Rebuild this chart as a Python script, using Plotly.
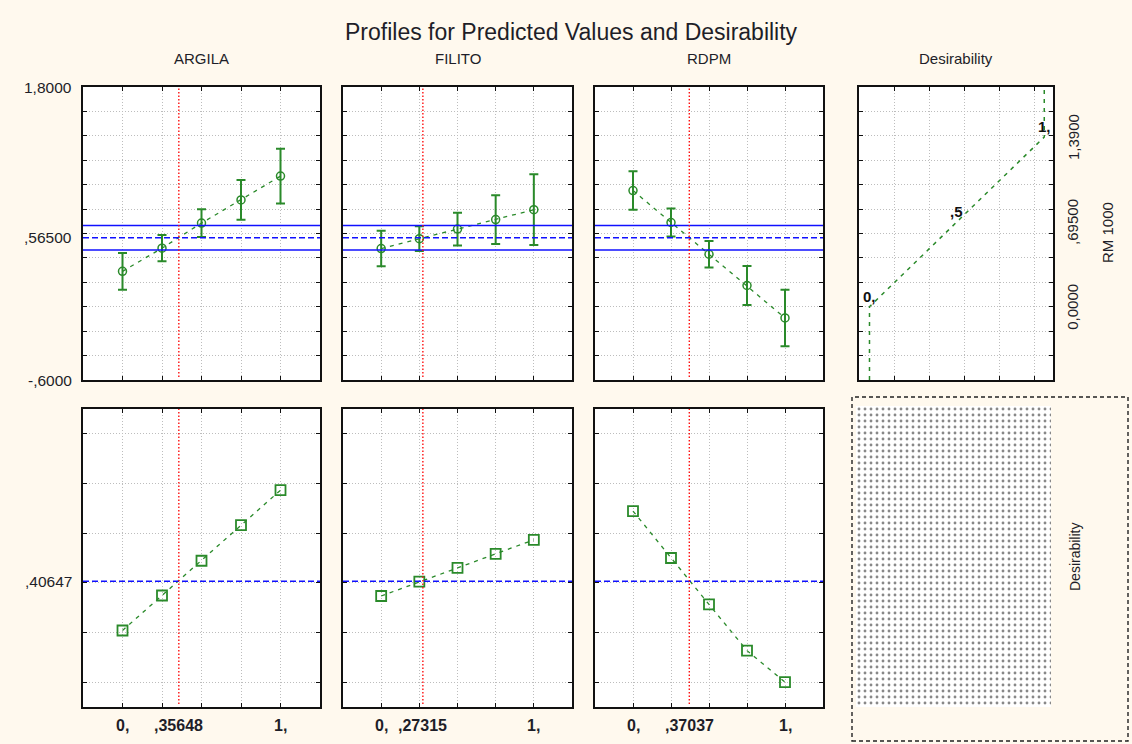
import plotly.graph_objects as go

# ---- data -------------------------------------------------------------
factors = ["ARGILA", "FILITO", "RDPM"]
levels = [0.0, 0.25, 0.5, 0.75, 1.0]

argila_pred = [0.29, 0.48, 0.685, 0.875, 1.07]
argila_ci = [0.15, 0.108, 0.113, 0.163, 0.224]
filito_pred = [0.477, 0.558, 0.636, 0.714, 0.795]
filito_ci = [0.145, 0.101, 0.134, 0.20, 0.29]
rdpm_pred = [0.952, 0.69, 0.43, 0.174, -0.092]
rdpm_ci = [0.157, 0.115, 0.108, 0.159, 0.231]

argila_des = [0.208, 0.349, 0.489, 0.632, 0.773]
filito_des = [0.347, 0.405, 0.460, 0.517, 0.573]
rdpm_des = [0.689, 0.500, 0.313, 0.127, 0.0]

current_levels = [0.35648, 0.27315, 0.37037]
current_labels = [",35648", ",27315", ",37037"]
pred_current = 0.565
pred_band = [0.465, 0.665]
des_current = 0.40647

# desirability function for RM 1000
des_rm = [-0.6, 0.0, 0.695, 1.39, 1.8]
des_val = [0.0, 0.0, 0.5, 1.0, 1.0]
des_point_labels = ["0,", ",5", "1,"]
rm_tick_labels = ["1,3900", ",69500", "0,0000"]
rm_tick_vals = [1.39, 0.695, 0.0]

pred_series = [argila_pred, filito_pred, rdpm_pred]
ci_series = [argila_ci, filito_ci, rdpm_ci]
des_series = [argila_des, filito_des, rdpm_des]

# ---- layout geometry (pixels) ----------------------------------------
W, H = 1132, 744
col_px = [(83, 320), (343, 572), (595, 823), (859, 1053)]
top_px = (87, 380)
bot_px = (409, 707)


def px_x(a, b):
    return [a / W, b / W]


def px_y(top, bottom):
    return [(H - bottom) / H, (H - top) / H]


def sfx(n):
    return "" if n == 1 else str(n)


GREEN = "#2a8a2a"
BLUE = "#1010ff"
RED = "#ff1010"
BG = "#fff9ee"
TXT = "#1e1e28"
FONT = "Liberation Sans, Arial, sans-serif"

fig = go.Figure()
layout = {}

grid_common = dict(
    showgrid=True, gridcolor="#bdbdbd", gridwidth=1, griddash="1px,2px",
    showline=True, linecolor="#111", linewidth=1.6, mirror="ticks",
    ticks="inside", ticklen=4, tickcolor="#111", tickwidth=1,
    showticklabels=False, zeroline=False, fixedrange=True,
)

top_yticks = [round(-0.6 + 0.2 * i, 2) for i in range(13)]
bot_yticks = [0.0, 0.2, 0.4, 0.6, 0.8, 1.0]

# axis index: top row 1..4, bottom row 5..7, filler 8
for i in range(3):
    n = i + 1
    m = i + 5
    # top row: predicted values
    layout[f"xaxis{sfx(n)}"] = dict(grid_common, domain=px_x(*col_px[i]), range=[-0.25, 1.25],
                                    tickvals=levels, anchor=f"y{sfx(n)}")
    layout[f"yaxis{sfx(n)}"] = dict(grid_common, domain=px_y(*top_px), range=[-0.6, 1.8],
                                    tickvals=top_yticks, anchor=f"x{sfx(n)}")
    # bottom row: desirability
    layout[f"xaxis{m}"] = dict(grid_common, domain=px_x(*col_px[i]), range=[-0.25, 1.25],
                               tickvals=levels, anchor=f"y{m}")
    layout[f"yaxis{m}"] = dict(grid_common, domain=px_y(*bot_px), range=[-0.1, 1.1],
                               tickvals=bot_yticks, anchor=f"x{m}")

# desirability function panel
layout["xaxis4"] = dict(grid_common, domain=px_x(*col_px[3]), range=[-0.06, 1.05],
                        tickvals=[0.145, 0.345, 0.545, 0.745, 0.945], anchor="y4")
layout["yaxis4"] = dict(grid_common, domain=px_y(*top_px), range=[-0.6, 1.8],
                        tickvals=top_yticks, anchor="x4")
# dotted filler panel
layout["xaxis8"] = dict(domain=px_x(856, 1051), range=[0, 1], visible=False, fixedrange=True, anchor="y8")
layout["yaxis8"] = dict(domain=px_y(406, 707), range=[0, 1], visible=False, fixedrange=True, anchor="x8")

shapes = []
annotations = []

for i in range(3):
    xa, ya = f"x{sfx(i + 1)}", f"y{sfx(i + 1)}"
    xb, yb = f"x{i + 5}", f"y{i + 5}"

    # confidence band and current prediction
    for yv in pred_band:
        shapes.append(dict(type="line", xref=f"{xa} domain", yref=ya, x0=0, x1=1, y0=yv, y1=yv,
                           line=dict(color=BLUE, width=1.6)))
    shapes.append(dict(type="line", xref=f"{xa} domain", yref=ya, x0=0, x1=1,
                       y0=pred_current, y1=pred_current,
                       line=dict(color=BLUE, width=1.6, dash="6px,3px")))
    shapes.append(dict(type="line", xref=f"{xb} domain", yref=yb, x0=0, x1=1,
                       y0=des_current, y1=des_current,
                       line=dict(color=BLUE, width=1.4, dash="6px,3px")))
    # current factor level
    for ax, ay in ((xa, ya), (xb, yb)):
        shapes.append(dict(type="line", xref=ax, yref=f"{ay} domain",
                           x0=current_levels[i], x1=current_levels[i], y0=0.01, y1=1,
                           line=dict(color=RED, width=1.4, dash="1.5px,2px")))

    # predicted profile with confidence limits
    fig.add_trace(go.Scatter(
        x=levels, y=pred_series[i], xaxis=xa, yaxis=ya, mode="lines+markers",
        line=dict(color=GREEN, width=1.3, dash="4px,5px"),
        marker=dict(symbol="circle-open", size=8, color=GREEN, line=dict(width=1.5, color=GREEN)),
        error_y=dict(type="data", array=ci_series[i], visible=True, color=GREEN,
                     thickness=2, width=4.5),
        showlegend=False, hoverinfo="x+y",
    ))
    # desirability profile
    fig.add_trace(go.Scatter(
        x=levels, y=des_series[i], xaxis=xb, yaxis=yb, mode="lines+markers",
        line=dict(color=GREEN, width=1.3, dash="4px,5px"),
        marker=dict(symbol="square-open", size=10, color=GREEN, line=dict(width=1.8, color=GREEN)),
        showlegend=False, hoverinfo="x+y",
    ))

    # column header
    cx = (col_px[i][0] + col_px[i][1]) / 2 / W
    annotations.append(dict(text=factors[i], xref="paper", yref="paper", x=cx, y=(H - 58) / H,
                            showarrow=False, font=dict(size=15, color=TXT, family=FONT),
                            xanchor="center", yanchor="middle"))
    # bottom tick labels
    for xv, lab in ((0.0, "0,"), (current_levels[i], current_labels[i]), (1.0, "1,")):
        annotations.append(dict(text=f"<b>{lab}</b>", xref=xb, yref="paper", x=xv, y=(H - 725) / H,
                                showarrow=False, font=dict(size=16, color=TXT, family=FONT),
                                xanchor="center", yanchor="middle"))

# desirability function curve
fig.add_trace(go.Scatter(
    x=des_val, y=des_rm, xaxis="x4", yaxis="y4", mode="lines",
    line=dict(color=GREEN, width=1.5, dash="4px,5px"), showlegend=False, hoverinfo="x+y",
))
for k, lab in enumerate(des_point_labels):
    annotations.append(dict(text=f"<b>{lab}</b>", xref="x4", yref="y4",
                            x=des_val[k + 1], y=des_rm[k + 1], yshift=0,
                            showarrow=False, font=dict(size=15, color="#111", family=FONT),
                            xanchor="center", yanchor="bottom"))
for yv, lab in zip(rm_tick_vals, rm_tick_labels):
    annotations.append(dict(text=lab, xref="paper", yref="y4", x=1073 / W, y=yv, textangle=-90,
                            showarrow=False, font=dict(size=15, color=TXT, family=FONT),
                            xanchor="center", yanchor="middle"))
annotations.append(dict(text="RM 1000", xref="paper", yref="paper", x=1107 / W, y=(H - 233) / H,
                        textangle=-90, showarrow=False, font=dict(size=15, color=TXT, family=FONT),
                        xanchor="center", yanchor="middle"))
annotations.append(dict(text="Desirability", xref="paper", yref="paper", x=956 / W, y=(H - 58) / H,
                        showarrow=False, font=dict(size=15, color=TXT, family=FONT),
                        xanchor="center", yanchor="middle"))

# left axis labels
for yv, lab in ((1.8, "1,8000"), (pred_current, ",56500"), (-0.6, "-,6000")):
    annotations.append(dict(text=lab, xref="paper", yref="y", x=74 / W, y=yv,
                            showarrow=False, font=dict(size=15.5, color=TXT, family=FONT),
                            xanchor="right", yanchor="middle"))
annotations.append(dict(text=",40647", xref="paper", yref="y5", x=74 / W, y=des_current,
                        showarrow=False, font=dict(size=15.5, color=TXT, family=FONT),
                        xanchor="right", yanchor="middle"))

# title
annotations.append(dict(text="Profiles for Predicted Values and Desirability", xref="paper", yref="paper",
                        x=571 / W, y=(H - 32) / H, showarrow=False,
                        font=dict(size=23, color=TXT, family=FONT), xanchor="center", yanchor="middle"))

# overall desirability area (empty dotted surface)
fig.add_trace(go.Scatter(
    x=[0, 1, 1, 0, 0], y=[0, 0, 1, 1, 0], xaxis="x8", yaxis="y8", mode="lines",
    fill="toself", line=dict(width=0, color="rgba(0,0,0,0)"),
    fillpattern=dict(shape=".", size=6, solidity=0.18, fgcolor="#111", bgcolor="white"),
    showlegend=False, hoverinfo="skip",
))
annotations.append(dict(text="Desirability", xref="paper", yref="paper", x=1075 / W, y=(H - 557) / H,
                        textangle=-90, showarrow=False, font=dict(size=14, color=TXT, family=FONT),
                        xanchor="center", yanchor="middle"))
shapes.append(dict(type="rect", xref="paper", yref="paper", x0=852 / W, x1=1128 / W,
                   y0=(H - 741) / H, y1=(H - 397) / H,
                   line=dict(color="#222", width=1.4, dash="4px,3px")))

fig.update_layout(
    width=W, height=H, margin=dict(l=0, r=0, t=0, b=0),
    paper_bgcolor=BG, plot_bgcolor="white",
    shapes=shapes, annotations=annotations, showlegend=False,
    font=dict(family=FONT, color=TXT),
    **layout,
)

fig.write_html("out.html")
